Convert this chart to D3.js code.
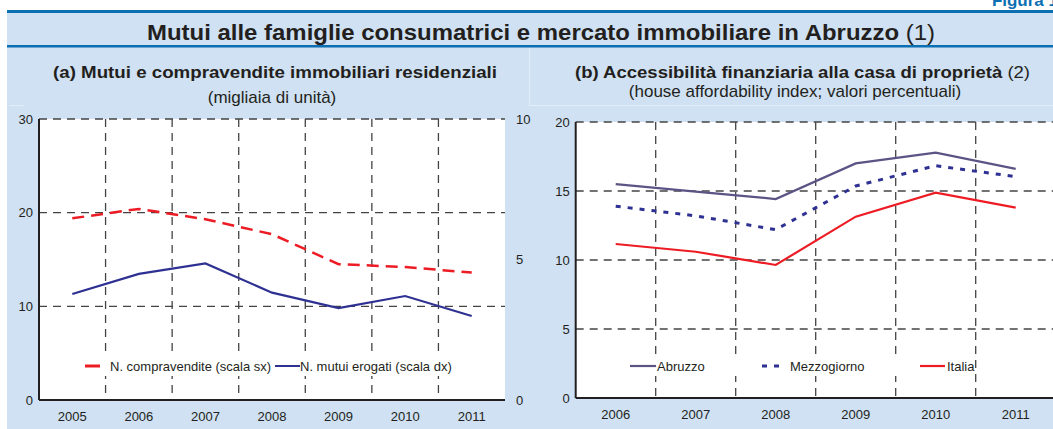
<!DOCTYPE html>
<html>
<head>
<meta charset="utf-8">
<script src="https://cdn.jsdelivr.net/npm/d3@7"></script>
<style>
  body { margin: 0; background: #fff; }
  svg { display: block; font-family: "Liberation Sans", Arial, sans-serif; }
  .tick text { font-size: 13px; fill: #231f20; }
</style>
</head>
<body>
<div id="chart"></div>
<script>
// panel (a)
const yearsA = ["2005", "2006", "2007", "2008", "2009", "2010", "2011"];
const compravendite = [19.4, 20.4, 19.3, 17.7, 14.5, 14.2, 13.6];
const mutui = [3.77, 4.49, 4.86, 3.82, 3.27, 3.70, 2.99];
const ticksLeftA = [0, 10, 20, 30];
const ticksRightA = [0, 5, 10];

// panel (b)
const yearsB = ["2006", "2007", "2008", "2009", "2010", "2011"];
const abruzzo = [15.5, 14.96, 14.42, 17.0, 17.78, 16.6];
const mezzogiorno = [13.9, 13.2, 12.2, 15.36, 16.83, 16.04];
const italia = [11.16, 10.6, 9.64, 13.14, 14.88, 13.79];
const ticksB = [0, 5, 10, 15, 20];

const width = 1053, height = 429;
const bg = "#cfe1f2", dark = "#0b6fb1";

const svg = d3.select("#chart").append("svg")
  .attr("width", width)
  .attr("height", height);

// frame
svg.append("rect").attr("x", 7).attr("y", 12).attr("width", width - 7).attr("height", height - 12).attr("fill", bg);
svg.append("rect").attr("x", 7).attr("y", 10).attr("width", width - 7).attr("height", 3).attr("fill", dark);
svg.append("rect").attr("x", 7).attr("y", 45).attr("width", width - 7).attr("height", 2.5).attr("fill", dark);
// faint panel separators
svg.append("line").attr("x1", 529.5).attr("x2", 529.5).attr("y1", 48).attr("y2", 106)
  .attr("stroke", "#e3edf7").attr("stroke-width", 1);
svg.append("line").attr("x1", 530).attr("x2", width).attr("y1", 105.5).attr("y2", 105.5)
  .attr("stroke", "#e3edf7").attr("stroke-width", 1);
svg.append("line").attr("x1", 9).attr("x2", 24).attr("y1", 105.5).attr("y2", 105.5)
  .attr("stroke", "#e3edf7").attr("stroke-width", 1);

svg.append("text")
  .attr("x", 1058).attr("y", 6)
  .attr("text-anchor", "end")
  .attr("font-weight", "bold").attr("font-size", 17)
  .attr("fill", dark)
  .text("Figura 1");

const title = svg.append("text")
  .attr("x", 147).attr("y", 40)
  .attr("font-size", 22).attr("fill", "#231f20")
  .attr("textLength", 788).attr("lengthAdjust", "spacingAndGlyphs");
title.append("tspan").attr("font-weight", "bold").text("Mutui alle famiglie consumatrici e mercato immobiliare in Abruzzo");
title.append("tspan").text(" (1)");

svg.append("text")
  .attr("x", 53).attr("y", 78)
  .attr("font-size", 17).attr("font-weight", "bold").attr("fill", "#231f20")
  .attr("textLength", 444).attr("lengthAdjust", "spacingAndGlyphs")
  .text("(a) Mutui e compravendite immobiliari residenziali");
svg.append("text")
  .attr("x", 272).attr("y", 103)
  .attr("text-anchor", "middle")
  .attr("font-size", 17).attr("fill", "#231f20")
  .text("(migliaia di unità)");

const titleB = svg.append("text")
  .attr("x", 575).attr("y", 78)
  .attr("font-size", 17).attr("fill", "#231f20")
  .attr("textLength", 455).attr("lengthAdjust", "spacingAndGlyphs");
titleB.append("tspan").attr("font-weight", "bold").text("(b) Accessibilità finanziaria alla casa di proprietà");
titleB.append("tspan").text(" (2)");
svg.append("text")
  .attr("x", 795).attr("y", 97)
  .attr("text-anchor", "middle")
  .attr("font-size", 17).attr("fill", "#231f20")
  .text("(house affordability index; valori percentuali)");

// draws plot area, grid, axes
function panel(years, x, y, yTicks) {
  const g = svg.append("g");
  const [x0, x1] = x.range();
  const [yb, yt] = y.range();
  g.append("rect").attr("x", x0).attr("y", yt).attr("width", x1 - x0).attr("height", yb - yt).attr("fill", "#fff");

  // vertical grid at band boundaries
  g.append("g").selectAll("line")
    .data(years.slice(1))
    .join("line")
    .attr("x1", d => x(d)).attr("x2", d => x(d))
    .attr("y1", yt).attr("y2", yb)
    .attr("stroke", "#444").attr("stroke-width", 1.3)
    .attr("stroke-dasharray", "8,6");

  g.append("g").selectAll("line")
    .data(yTicks.filter(d => d > 0))
    .join("line")
    .attr("x1", x0).attr("x2", x1)
    .attr("y1", d => y(d)).attr("y2", d => y(d))
    .attr("stroke", "#444").attr("stroke-width", 1.3)
    .attr("stroke-dasharray", "8,6");

  g.append("line").attr("x1", x0).attr("x2", x0).attr("y1", yt).attr("y2", yb)
    .attr("stroke", "#231f20").attr("stroke-width", 2);
  g.append("line").attr("x1", x0).attr("x2", x1).attr("y1", yb).attr("y2", yb)
    .attr("stroke", "#231f20").attr("stroke-width", 2);

  const ax = g.append("g")
    .attr("transform", `translate(0,${yb})`)
    .call(d3.axisBottom(x).tickSize(0).tickPadding(12));
  ax.select(".domain").remove();

  const ay = g.append("g")
    .attr("transform", `translate(${x0},0)`)
    .call(d3.axisLeft(y).tickValues(yTicks).tickSize(0).tickPadding(6));
  ay.select(".domain").remove();
  return g;
}

function legend(items, y) {
  const g = svg.append("g");
  for (const it of items) {
    g.append("line")
      .attr("x1", it.x).attr("x2", it.x + it.len)
      .attr("y1", y).attr("y2", y)
      .attr("stroke", it.color).attr("stroke-width", it.w)
      .attr("stroke-dasharray", it.dash || null);
    g.append("text")
      .attr("x", it.tx).attr("y", y + 5)
      .attr("font-size", 13).attr("fill", "#231f20")
      .text(it.label);
  }
}

const line = (x, y) => d3.line().x((d, i) => x(x.domain()[i]) + x.bandwidth() / 2).y(d => y(d));

// ---------- panel (a)
const xA = d3.scaleBand().domain(yearsA).range([39, 505]);
const yA = d3.scaleLinear().domain([0, 30]).range([400, 119]);
const yA2 = d3.scaleLinear().domain([0, 10]).range([400, 119]);
panel(yearsA, xA, yA, ticksLeftA);

const ayR = svg.append("g")
  .attr("transform", "translate(505,0)")
  .call(d3.axisRight(yA2).tickValues(ticksRightA).tickSize(0).tickPadding(11));
ayR.select(".domain").remove();

svg.append("rect").attr("x", 80).attr("y", 356).attr("width", 375).attr("height", 20).attr("fill", "#fff");
legend([
  { x: 85, len: 15, tx: 110, color: "#ed1c24", w: 3, label: "N. compravendite (scala sx)" },
  { x: 275, len: 25, tx: 300, color: "#2e3192", w: 2, label: "N. mutui erogati (scala dx)" }
], 366);

svg.append("path")
  .datum(compravendite)
  .attr("d", line(xA, yA))
  .attr("fill", "none")
  .attr("stroke", "#ed1c24").attr("stroke-width", 2.5)
  .attr("stroke-dasharray", "12,7");

svg.append("path")
  .datum(mutui)
  .attr("d", line(xA, yA2))
  .attr("fill", "none")
  .attr("stroke", "#2e3192").attr("stroke-width", 2.2);

// ---------- panel (b)
const xB = d3.scaleBand().domain(yearsB).range([575.7, 1055.7]);
const yB = d3.scaleLinear().domain([0, 20]).range([398, 122]);
panel(yearsB, xB, yB, ticksB);

svg.append("rect").attr("x", 625).attr("y", 356).attr("width", 340).attr("height", 20).attr("fill", "#fff");
legend([
  { x: 630, len: 26, tx: 657, color: "#5b5484", w: 2.2, label: "Abruzzo" },
  { x: 762, len: 20, tx: 790, color: "#2e3192", w: 3, dash: "5,7", label: "Mezzogiorno" },
  { x: 920, len: 25, tx: 947, color: "#ed1c24", w: 2.2, label: "Italia" }
], 366);

const seriesB = [
  { data: abruzzo, color: "#5b5484", w: 2.2 },
  { data: mezzogiorno, color: "#2e3192", w: 3, dash: "5,7" },
  { data: italia, color: "#ed1c24", w: 2.2 }
];
svg.append("g").selectAll("path")
  .data(seriesB)
  .join("path")
  .attr("d", d => line(xB, yB)(d.data))
  .attr("fill", "none")
  .attr("stroke", d => d.color)
  .attr("stroke-width", d => d.w)
  .attr("stroke-dasharray", d => d.dash || null);
</script>
</body>
</html>
